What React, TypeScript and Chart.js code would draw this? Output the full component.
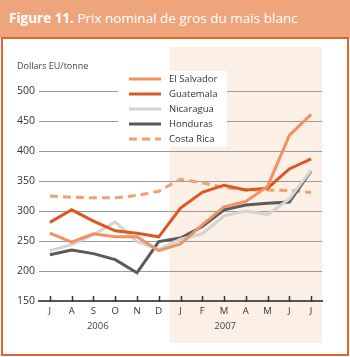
import React, { useEffect, useRef } from "react";
import { Chart, registerables } from "chart.js";

Chart.register(...registerables);

const months = ["J", "A", "S", "O", "N", "D", "J", "F", "M", "A", "M", "J", "J"];
const years = ["2006", "2007"];
const yTicks = [150, 200, 250, 300, 350, 400, 450, 500];

const elSalvador = [263, 248, 262, 257, 257, 234, 245, 277, 307, 316, 341, 426, 461];
const guatemala = [281, 302, 283, 267, 263, 257, 305, 331, 343, 335, 338, 370, 387];
const nicaragua = [234, 244, 260, 282, 249, 236, 253, 262, 292, 300, 294, 320, 368];
const honduras = [227, 235, 229, 219, 197, 249, 255, 274, 302, 310, 313, 315, 367];
const costaRica = [325, 323, 322, 322, 326, 333, 353, 347, 339, 335, 335, 334, 331];

const FONT = "'Open Sans', sans-serif";

const seriesDefs = [
  { label: "El Salvador", data: elSalvador, color: "#ef9362", dash: [] as number[] },
  { label: "Guatemala", data: guatemala, color: "#dc5820", dash: [] as number[] },
  { label: "Nicaragua", data: nicaragua, color: "#d4d4d4", dash: [] as number[] },
  { label: "Honduras", data: honduras, color: "#5a5a5a", dash: [] as number[] },
  { label: "Costa Rica", data: costaRica, color: "#f0a070", dash: [8, 5] },
];

const decorPlugin = {
  id: "decor",
  beforeDraw(chart: any) {
    const { ctx, chartArea, scales } = chart;
    const x = scales.x;
    const left = (x.getPixelForValue(5) + x.getPixelForValue(6)) / 2;
    ctx.save();
    ctx.fillStyle = "#fcefe6";
    ctx.fillRect(left, 47, chartArea.right - left, 296);
    ctx.restore();
  },
  afterDatasetsDraw(chart: any) {
    const { ctx, chartArea, scales } = chart;
    const x = scales.x;
    ctx.save();
    ctx.strokeStyle = "#333";
    ctx.lineWidth = 1.5;
    for (let i = 0; i < months.length; i++) {
      const px = Math.round(x.getPixelForValue(i)) + 0.5;
      ctx.beginPath();
      ctx.moveTo(px, chartArea.bottom - 5);
      ctx.lineTo(px, chartArea.bottom + 1);
      ctx.stroke();
    }
    ctx.fillStyle = "#444";
    ctx.font = `9.5px ${FONT}`;
    ctx.textAlign = "center";
    ctx.textBaseline = "middle";
    ctx.fillText(years[0], x.getPixelForValue(2.2), 326);
    ctx.fillText(years[1], x.getPixelForValue(8.05), 326);
    ctx.textAlign = "left";
    ctx.font = `9px ${FONT}`;
    ctx.fillText("Dollars EU/tonne", 17, 66);
    ctx.fillStyle = "#ffffff";
    ctx.fillRect(118, 71, 109, 76);
    ctx.font = `9.5px ${FONT}`;
    seriesDefs.forEach((s, i) => {
      const y = 79 + i * 15;
      ctx.strokeStyle = s.color;
      ctx.lineWidth = 3;
      ctx.setLineDash(s.dash);
      ctx.beginPath();
      ctx.moveTo(129, y);
      ctx.lineTo(161, y);
      ctx.stroke();
      ctx.setLineDash([]);
      ctx.fillStyle = "#333";
      ctx.textBaseline = "middle";
      ctx.fillText(s.label, 169, y + 0.5);
    });
    ctx.restore();
  },
};

export default function App() {
  const ref = useRef<HTMLCanvasElement>(null);
  useEffect(() => {
    document.body.style.margin = "0";
    const chart = new Chart(ref.current!, {
      type: "line",
      data: {
        labels: months,
        datasets: seriesDefs.map((s) => ({
          label: s.label,
          data: s.data,
          borderColor: s.color,
          backgroundColor: s.color,
          borderWidth: 3,
          borderDash: s.dash,
          pointRadius: 0,
          tension: 0,
          fill: false,
        })),
      },
      options: {
        responsive: false,
        animation: false,
        devicePixelRatio: 1,
        layout: { padding: { top: 91, right: 28, bottom: 16, left: 0 } },
        plugins: { legend: { display: false }, tooltip: { enabled: false } },
        scales: {
          x: {
            offset: true,
            grid: { display: false, drawTicks: false },
            border: { display: true, color: "#555", width: 2 },
            ticks: { color: "#333", font: { family: FONT, size: 9.5 }, padding: 5, maxRotation: 0, autoSkip: false },
            afterFit: (s: any) => { s.height = 40; },
          },
          y: {
            min: 150,
            max: 500,
            afterBuildTicks: (s: any) => { s.ticks = yTicks.map((v) => ({ value: v })); },
            grid: {
              drawTicks: false,
              color: (c: any) => (c.tick && c.tick.value === 150 ? "rgba(0,0,0,0)" : "#9a9a9a"),
              lineWidth: 1,
            },
            border: { display: false },
            ticks: { color: "#333", font: { family: FONT, size: 10.5 }, padding: 4 },
            afterFit: (s: any) => { s.width = 39; },
          },
        },
      },
      plugins: [decorPlugin],
    });
    return () => chart.destroy();
  }, []);

  return (
    <div style={{ position: "relative", width: 350, height: 357, background: "#fff", overflow: "hidden" }}>
      <div
        style={{
          position: "absolute", left: 0, top: 0, width: 350, height: 38, background: "#eea57c",
          color: "#fff", fontFamily: FONT, fontSize: 13.5, lineHeight: "36px", paddingLeft: 9,
          boxSizing: "border-box", whiteSpace: "nowrap",
        }}
      >
        <span style={{ fontWeight: 700 }}>Figure 11.</span> Prix nominal de gros du maïs blanc
      </div>
      <div
        style={{
          position: "absolute", left: 1, top: 37, width: 348, height: 319,
          border: "2px solid #e2642c", boxSizing: "border-box",
        }}
      />
      <canvas ref={ref} width={350} height={357} style={{ position: "absolute", left: 0, top: 0 }} />
    </div>
  );
}
